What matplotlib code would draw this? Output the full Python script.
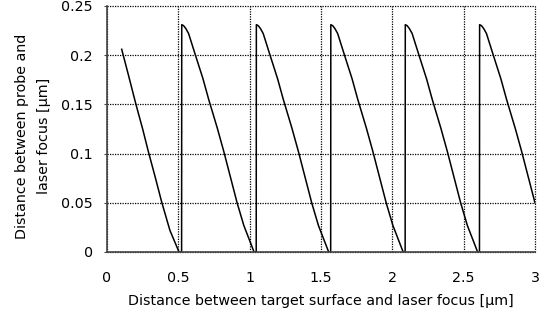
import matplotlib
matplotlib.use("Agg")
import matplotlib.pyplot as plt

# distance between target surface and laser focus [um]
x_dist = [0.103, 0.150, 0.203, 0.250, 0.290, 0.340, 0.383, 0.441, 0.505, 0.523,
          0.524, 0.537, 0.553, 0.572, 0.620, 0.673, 0.713, 0.773, 0.819, 0.912, 0.959, 1.031, 1.046,
          1.047, 1.060, 1.076, 1.095, 1.143, 1.196, 1.236, 1.296, 1.342, 1.435, 1.482, 1.554, 1.568,
          1.569, 1.582, 1.598, 1.617, 1.665, 1.718, 1.758, 1.818, 1.864, 1.957, 2.004, 2.076, 2.090,
          2.091, 2.104, 2.120, 2.139, 2.187, 2.240, 2.280, 2.340, 2.386, 2.479, 2.526, 2.598, 2.611,
          2.612, 2.625, 2.641, 2.660, 2.708, 2.761, 2.801, 2.861, 2.907, 3.000]

# distance between probe and laser focus [um]
y_probe = [0.206, 0.180, 0.150, 0.125, 0.102, 0.075, 0.051, 0.022, 0.000, 0.000,
           0.231, 0.230, 0.227, 0.222, 0.200, 0.176, 0.155, 0.126, 0.102, 0.050, 0.027, 0.000, 0.000,
           0.231, 0.230, 0.227, 0.222, 0.200, 0.176, 0.155, 0.126, 0.102, 0.050, 0.027, 0.000, 0.000,
           0.231, 0.230, 0.227, 0.222, 0.200, 0.176, 0.155, 0.126, 0.102, 0.050, 0.027, 0.000, 0.000,
           0.231, 0.230, 0.227, 0.222, 0.200, 0.176, 0.155, 0.126, 0.102, 0.050, 0.027, 0.000, 0.000,
           0.231, 0.230, 0.227, 0.222, 0.200, 0.176, 0.155, 0.126, 0.102, 0.050]

x_ticks = [0, 0.5, 1, 1.5, 2, 2.5, 3]
x_labels = ["0", "0.5", "1", "1.5", "2", "2.5", "3"]
y_ticks = [0, 0.05, 0.1, 0.15, 0.2, 0.25]
y_labels = ["0", "0.05", "0.1", "0.15", "0.2", "0.25"]

plt.rcParams["font.family"] = "DejaVu Sans"
plt.rcParams["font.size"] = 10.3

fig = plt.figure(figsize=(5.47, 3.22), dpi=100)
ax = fig.add_axes([0.1956, 0.2174, 0.978 - 0.1956, 0.9814 - 0.2174])

ax.plot(x_dist, y_probe, c="black", lw=1.1)

ax.set_xlim(0, 3)
ax.set_ylim(0, 0.25)
ax.set_xticks(x_ticks, x_labels)
ax.set_yticks(y_ticks, y_labels)

ax.grid(True, color="black", linestyle=(0, (1, 1)), linewidth=0.9)
for gl in ax.get_xgridlines() + ax.get_ygridlines():
    gl.set_clip_on(False)

ax.spines["top"].set_visible(False)
ax.spines["right"].set_visible(False)
ax.spines["left"].set_color("#444444")
ax.spines["bottom"].set_color("#444444")
ax.spines["left"].set_linewidth(1.2)
ax.spines["bottom"].set_linewidth(1.2)

ax.tick_params(axis="x", length=0, pad=14)
ax.tick_params(axis="y", length=2, pad=8, color="#444444")

ax.set_xlabel("Distance between target surface and laser focus [µm]", labelpad=6)
ax.set_ylabel("Distance between probe and\nlaser focus [µm]", linespacing=1.75)
ax.yaxis.set_label_coords(-0.131, 0.47)

fig.savefig("out.png", dpi=100)
